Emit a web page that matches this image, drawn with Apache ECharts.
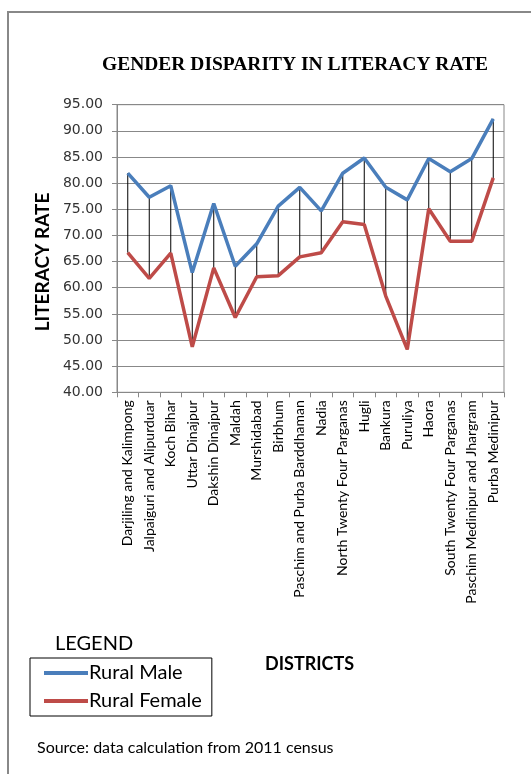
<!DOCTYPE html>
<html>
<head>
<meta charset="utf-8">
<script src="https://cdn.jsdelivr.net/npm/echarts@6/dist/echarts.min.js"></script>
<style>
  html, body { margin: 0; padding: 0; background: #fff; }
  #chart { width: 531px; height: 774px; }
</style>
</head>
<body>
<div id="chart"></div>
<script>
  // districts on the x axis
  var districts = [
    'Darjiling and Kalimpong', 'Jalpaiguri and Alipurduar', 'Koch Bihar', 'Uttar Dinajpur',
    'Dakshin Dinajpur', 'Maldah', 'Murshidabad', 'Birbhum', 'Paschim and Purba Barddhaman',
    'Nadia', 'North Twenty Four Parganas', 'Hugli', 'Bankura', 'Puruliya', 'Haora',
    'South Twenty Four Parganas', 'Paschim Medinipur and Jhargram', 'Purba Medinipur'
  ];
  var ruralMale = [81.9, 77.3, 79.5, 62.9, 76.1, 64.1, 68.4, 75.6, 79.2, 74.7, 81.9, 84.8, 79.2, 76.8, 84.7, 82.2, 84.7, 92.3];
  var ruralFemale = [66.7, 61.8, 66.6, 48.7, 63.8, 54.3, 62.1, 62.3, 65.9, 66.7, 72.6, 72.1, 58.4, 48.2, 75.1, 68.9, 68.9, 81.0];

  var gap = districts.map(function (d, i) {
    return [i, ruralMale[i], ruralFemale[i]];
  });

  var chart = echarts.init(document.getElementById('chart'));
  chart.setOption({
    animation: false,
    backgroundColor: '#fff',
    title: {
      text: 'GENDER DISPARITY IN LITERACY RATE',
      left: 97,
      top: 50,
      textStyle: {
        fontFamily: 'Liberation Serif',
        fontWeight: 'bold',
        fontSize: 19.5,
        color: '#000'
      }
    },
    graphic: [
      {
        type: 'rect',
        shape: { x: 8, y: 12, width: 600, height: 800 },
        style: { fill: 'none', stroke: '#888', lineWidth: 2 },
        silent: true
      },
      {
        // y axis title, drawn by hand so it can sit a little below the middle
        type: 'text',
        x: 43,
        y: 262,
        rotation: Math.PI / 2,
        style: {
          text: 'LITERACY RATE',
          font: 'bold 19px Lato',
          fill: '#000',
          align: 'center',
          verticalAlign: 'middle'
        }
      },
      {
        type: 'text',
        left: 55,
        top: 634,
        style: { text: 'LEGEND', font: '20px Lato', fill: '#000' }
      },
      {
        type: 'text',
        left: 265,
        top: 655,
        style: { text: 'DISTRICTS', font: 'bold 18px Lato', fill: '#000' }
      },
      {
        type: 'text',
        left: 37,
        top: 740,
        style: { text: 'Source: data calculation from 2011 census', font: '16px Lato', fill: '#000' }
      }
    ],
    legend: {
      data: ['Rural Male', 'Rural Female'],
      orient: 'vertical',
      left: 30,
      top: 658,
      borderColor: '#000',
      borderWidth: 1,
      padding: [5, 10, 5, 14],
      itemGap: 8,
      itemWidth: 44,
      itemHeight: 4,
      icon: 'rect',
      textStyle: { fontFamily: 'Lato', fontSize: 20, color: '#000', padding: [0, 0, 0, -4] }
    },
    grid: {
      left: 117,
      right: 27,
      top: 104.7,
      bottom: 381.7,
      show: true,
      borderColor: '#888',
      borderWidth: 1
    },
    xAxis: {
      type: 'category',
      data: districts,
      boundaryGap: true,
      axisLine: { lineStyle: { color: '#888' } },
      axisTick: { show: true, length: 5, lineStyle: { color: '#888' } },
      axisLabel: {
        interval: 0,
        rotate: 90,
        margin: 8,
        fontFamily: 'Lato',
        fontSize: 14,
        color: '#000'
      }
    },
    yAxis: {
      type: 'value',
      min: 40,
      max: 95,
      interval: 5,
      axisLine: { show: true, lineStyle: { color: '#888' } },
      axisTick: { show: true, length: 5, lineStyle: { color: '#888' } },
      axisLabel: {
        formatter: function (v) { return v.toFixed(2); },
        fontFamily: 'DejaVu Sans',
        fontSize: 14,
        color: '#333',
        margin: 14
      },
      splitLine: { lineStyle: { color: '#888' } }
    },
    series: [
      {
        name: 'gap',
        type: 'custom',
        data: gap,
        z: 1,
        renderItem: function (params, api) {
          var a = api.coord([api.value(0), api.value(1)]);
          var b = api.coord([api.value(0), api.value(2)]);
          return {
            type: 'line',
            shape: { x1: a[0], y1: a[1], x2: b[0], y2: b[1] },
            style: { stroke: '#000', lineWidth: 1 }
          };
        }
      },
      {
        name: 'Rural Male',
        type: 'line',
        data: ruralMale,
        showSymbol: false,
        z: 3,
        itemStyle: { color: '#4A7EBB' },
        lineStyle: { color: '#4A7EBB', width: 3.5 }
      },
      {
        name: 'Rural Female',
        type: 'line',
        data: ruralFemale,
        showSymbol: false,
        z: 3,
        itemStyle: { color: '#BE4B48' },
        lineStyle: { color: '#BE4B48', width: 3.5 }
      }
    ]
  });
</script>
</body>
</html>
